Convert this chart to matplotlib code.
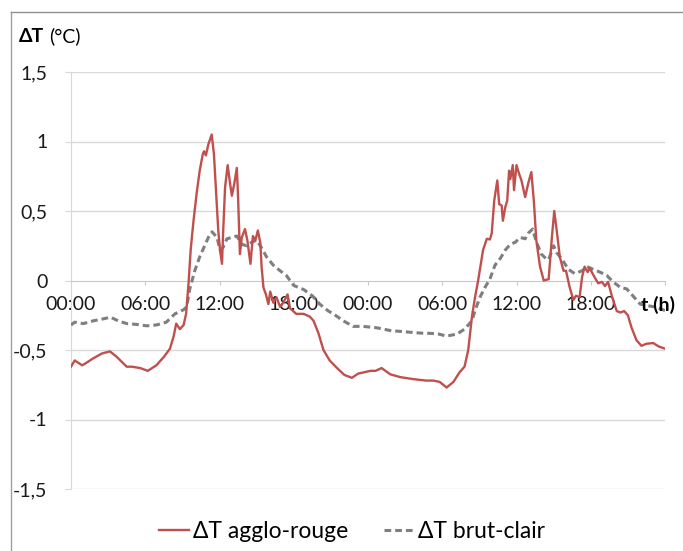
import numpy as np
import matplotlib
matplotlib.use("Agg")
import matplotlib.pyplot as plt
from matplotlib.lines import Line2D

plt.rcParams['font.family'] = ['Lato', 'DejaVu Sans']

# hours since start, delta T (°C)
red_h = [0, 0.3, 0.9, 1.1, 1.8, 2.5, 3.15, 3.7, 4.5, 4.9, 5.6, 6.2, 6.9, 7.5, 8.0, 8.3,
         8.5, 8.8, 9.1, 9.3, 9.5, 9.67, 9.9, 10.15, 10.4, 10.65, 10.75, 10.9, 11.1, 11.37,
         11.55, 11.7, 11.9, 12.04, 12.2, 12.3, 12.45, 12.66, 12.85, 13.0, 13.2, 13.4, 13.5,
         13.65, 13.8, 14.06, 14.25, 14.5, 14.7, 14.9, 15.1, 15.3, 15.4, 15.55, 15.75, 15.95,
         16.1, 16.35, 16.6, 16.9, 17.15, 17.5, 17.7, 18.2, 18.8, 19.3, 19.6, 20.0, 20.4,
         20.9, 21.5, 22.1, 22.7, 23.2, 24.2, 24.6, 25.1, 25.8, 26.6, 27.7, 28.7, 29.3, 29.8,
         30.35, 30.9, 31.4, 31.8, 32.1, 32.4, 32.65, 32.9, 33.3, 33.6, 33.85, 34.0, 34.2,
         34.45, 34.6, 34.8, 34.9, 35.1, 35.25, 35.4, 35.5, 35.7, 35.8, 36.0, 36.2, 36.4,
         36.7, 36.95, 37.2, 37.4, 37.6, 37.9, 38.2, 38.6, 38.85, 39.05, 39.25, 39.5, 39.8,
         40.0, 40.3, 40.6, 40.8, 41.1, 41.3, 41.5, 41.75, 41.9, 42.3, 42.6, 42.9, 43.15,
         43.4, 43.7, 44.1, 44.4, 44.7, 45.0, 45.3, 45.7, 46.1, 46.5, 47.05, 47.5, 48.0]
red_dt = [-0.62, -0.575, -0.61, -0.60, -0.56, -0.525, -0.51, -0.55, -0.62, -0.62, -0.63,
          -0.65, -0.61, -0.55, -0.49, -0.40, -0.31, -0.35, -0.32, -0.24, -0.02, 0.22, 0.43,
          0.625, 0.79, 0.91, 0.93, 0.90, 0.98, 1.05, 0.91, 0.67, 0.36, 0.22, 0.12, 0.36,
          0.67, 0.83, 0.70, 0.61, 0.70, 0.81, 0.60, 0.19, 0.31, 0.37, 0.29, 0.12, 0.32, 0.29,
          0.36, 0.27, 0.10, -0.05, -0.10, -0.17, -0.08, -0.16, -0.12, -0.19, -0.16, -0.10,
          -0.20, -0.24, -0.24, -0.26, -0.29, -0.38, -0.50, -0.575, -0.63, -0.68, -0.70,
          -0.67, -0.65, -0.65, -0.63, -0.675, -0.695, -0.71, -0.72, -0.72, -0.73, -0.77,
          -0.73, -0.66, -0.62, -0.50, -0.26, -0.12, 0.0, 0.22, 0.30, 0.295, 0.34, 0.575,
          0.72, 0.55, 0.54, 0.43, 0.53, 0.575, 0.79, 0.73, 0.83, 0.65, 0.83, 0.77, 0.72,
          0.60, 0.70, 0.78, 0.575, 0.29, 0.10, 0.0, 0.01, 0.30, 0.50, 0.36, 0.17, 0.07,
          0.07, -0.05, -0.14, -0.11, -0.12, 0.025, 0.10, 0.06, 0.09, 0.025, -0.02, -0.01,
          -0.04, -0.01, -0.11, -0.22, -0.23, -0.22, -0.25, -0.34, -0.43, -0.47, -0.455,
          -0.45, -0.475, -0.49]

gray_h = [0, 0.3, 1.0, 1.8, 2.6, 3.2, 3.8, 4.5, 5.3, 6.1, 6.9, 7.7, 8.4, 9.1, 9.35, 9.6,
          10.0, 10.4, 10.7, 11.1, 11.4, 11.8, 12.04, 12.3, 12.6, 13.0, 13.4, 13.8, 14.2,
          14.6, 15.0, 15.3, 15.8, 16.35, 16.9, 17.4, 18.0, 18.8, 19.5, 20.1, 20.8, 21.2,
          22.0, 22.8, 23.6, 24.7, 25.8, 27.1, 28.5, 29.0, 29.7, 30.35, 31.2, 31.8, 32.4,
          32.65, 33.05, 33.45, 33.85, 34.26, 34.7, 35.1, 35.5, 35.9, 36.3, 36.7, 36.95,
          37.3, 37.6, 38.0, 38.4, 38.6, 39.0, 39.25, 39.65, 40.2, 40.7, 41.3, 41.7, 42.2,
          42.75, 43.3, 43.8, 44.4, 44.9, 45.4, 46.0, 46.5, 47.2, 48.0]
gray_dt = [-0.32, -0.30, -0.31, -0.29, -0.276, -0.264, -0.29, -0.31, -0.316, -0.326, -0.32,
           -0.30, -0.24, -0.21, -0.19, -0.06, 0.07, 0.17, 0.23, 0.31, 0.35, 0.31, 0.22,
           0.24, 0.30, 0.31, 0.32, 0.26, 0.25, 0.275, 0.29, 0.25, 0.17, 0.11, 0.07, 0.036,
           -0.036, -0.065, -0.11, -0.17, -0.22, -0.24, -0.29, -0.33, -0.33, -0.34, -0.36,
           -0.37, -0.38, -0.38, -0.385, -0.40, -0.385, -0.35, -0.29, -0.216, -0.12, -0.05,
           0.01, 0.11, 0.16, 0.22, 0.26, 0.275, 0.31, 0.30, 0.34, 0.37, 0.28, 0.19, 0.156,
           0.15, 0.25, 0.20, 0.156, 0.08, 0.05, 0.07, 0.10, 0.08, 0.06, 0.036, -0.01, -0.05,
           -0.06, -0.11, -0.17, -0.18, -0.19, -0.216]

tick_hours = [0, 6, 12, 18, 24, 30, 36, 42, 48]
tick_labels = ["00:00", "06:00", "12:00", "18:00", "00:00", "06:00", "12:00", "18:00", ""]
y_ticks = [-1.5, -1, -0.5, 0, 0.5, 1, 1.5]
y_labels = ["-1,5", "-1", "-0,5", "0", "0,5", "1", "1,5"]

W, H = 683, 551
fig = plt.figure(figsize=(W / 100, H / 100), dpi=100)
ax = fig.add_axes([71 / W, 1 - 489 / H, (665 - 71) / W, (489 - 72) / H])

grid_c = '#d9d9d9'
for v in y_ticks:
    if v != 0:
        ax.axhline(v, color=grid_c, lw=1, zorder=0)

ax.plot(gray_h, gray_dt, color='#7f7f7f', lw=2.2, linestyle=(0, (2.2, 1.3)),
        zorder=3, label='ΔT brut-clair')
ax.plot(red_h, red_dt, color='#c0504d', lw=1.7, zorder=4, label='ΔT agglo-rouge')

ax.set_xlim(0, 48)
ax.set_ylim(-1.5, 1.5)
ax.set_yticks(y_ticks)
ax.set_yticklabels(y_labels)
ax.set_xticks(tick_hours)
ax.set_xticklabels(tick_labels)

for s in ['top', 'right']:
    ax.spines[s].set_visible(False)
ax.spines['left'].set_color(grid_c)
ax.spines['bottom'].set_position(('data', 0))
ax.spines['bottom'].set_color('#c8c8c8')
ax.tick_params(axis='y', length=4, color=grid_c, pad=13, labelsize=14, labelcolor='#1a1a1a')
ax.tick_params(axis='x', length=3, color='#c8c8c8', pad=8, labelsize=14, labelcolor='#1a1a1a')

# axis titles
fig.text(19 / W, 1 - 36 / H, 'ΔT', fontsize=14, fontweight='bold', va='center', ha='left')
fig.text(49 / W, 1 - 36 / H, '(°C)', fontsize=14, va='center', ha='left')
fig.text(641 / W, 1 - 305 / H, 't (h)', fontsize=14, fontweight='bold', va='center', ha='left')

handles = [Line2D([], [], color='#c0504d', lw=1.7),
           Line2D([], [], color='#7f7f7f', lw=2.2, linestyle=(0, (2.2, 1.3)))]
fig.legend(handles, ['ΔT agglo-rouge', 'ΔT brut-clair'], loc='center',
           bbox_to_anchor=(352 / W, 1 - 532 / H), ncol=2, frameon=False, fontsize=16.5,
           handlelength=1.3, handletextpad=0.15, columnspacing=1.6)

# outer chart frame
fig.add_artist(Line2D([11 / W, 11 / W], [0, 1 - 12 / H], color='#a0a0a0', lw=1))
fig.add_artist(Line2D([11 / W, 1], [1 - 12 / H, 1 - 12 / H], color='#909090', lw=1))

fig.savefig('out.png', dpi=100, facecolor='white')
